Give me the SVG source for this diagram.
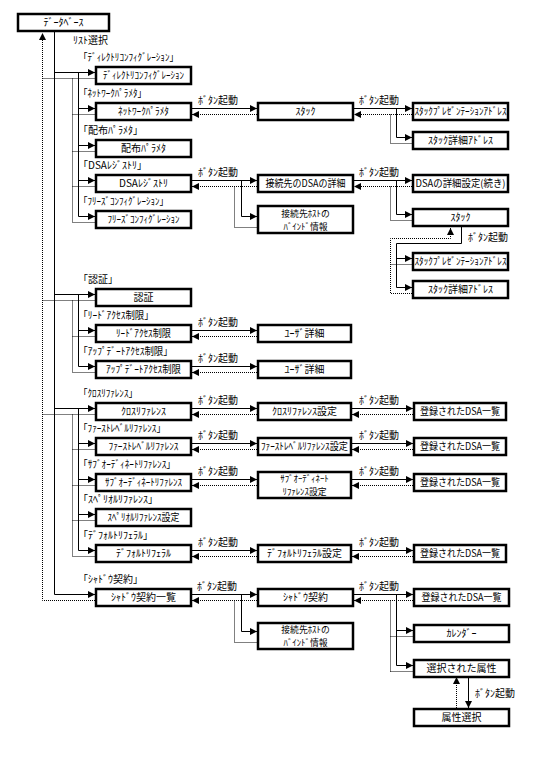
<svg xmlns="http://www.w3.org/2000/svg" width="540" height="780" viewBox="0 0 540 780">
<style>
.box{fill:#fff;stroke:#000;stroke-width:2.5}
.t{font-family:"Noto Sans CJK JP","Noto Sans CJK SC",sans-serif;font-size:10px;fill:#000}
.t2{font-size:8.8px}
.c{text-anchor:middle}
.s{fill:none;stroke:#000;stroke-width:1}
.d{fill:none;stroke:#000;stroke-width:1;stroke-dasharray:1 1}
.a{marker-end:url(#ar)}
</style>
<defs>
<marker id="ar" viewBox="0 0 7 7" refX="7" refY="3.5" markerWidth="7" markerHeight="7" markerUnits="userSpaceOnUse" orient="auto"><path d="M0,0 L7,3.5 L0,7 Z" fill="#000" stroke="none"/></marker>
</defs>
<rect width="540" height="780" fill="#fff"/>

<g id="connectors">
<path class="s a" d="M54.5,32 V594.5 H95"/>
<path class="d a" d="M95,600.5 H42.5 V33"/>
<path class="s a" d="M54.5,72.5 H95"/>
<path class="s" d="M78.5,72.5 V216.5"/>
<path class="s a" d="M78.5,108.5 H95"/>
<path class="s a" d="M78.5,145.5 H95"/>
<path class="s a" d="M78.5,180.5 H95"/>
<path class="s a" d="M78.5,216.5 H95"/>
<path class="d" d="M42.5,78.5 H95"/>
<path class="d" d="M72.5,78.5 V222.5"/>
<path class="d" d="M72.5,114.5 H95"/>
<path class="d" d="M72.5,151.5 H95"/>
<path class="d" d="M72.5,186.5 H95"/>
<path class="d" d="M72.5,222.5 H95"/>
<path class="s a" d="M54.5,294.5 H95"/>
<path class="s" d="M78.5,294.5 V366.5"/>
<path class="s a" d="M78.5,330.5 H95"/>
<path class="s a" d="M78.5,366.5 H95"/>
<path class="d" d="M42.5,300.5 H95"/>
<path class="d" d="M72.5,300.5 V372.5"/>
<path class="d" d="M72.5,336.5 H95"/>
<path class="d" d="M72.5,372.5 H95"/>
<path class="s a" d="M54.5,408.5 H95"/>
<path class="s" d="M78.5,408.5 V550.5"/>
<path class="s a" d="M78.5,443.5 H95"/>
<path class="s a" d="M78.5,479.5 H95"/>
<path class="s a" d="M78.5,514.5 H95"/>
<path class="s a" d="M78.5,550.5 H95"/>
<path class="d" d="M42.5,414.5 H95"/>
<path class="d" d="M72.5,414.5 V556.5"/>
<path class="d" d="M72.5,449.5 H95"/>
<path class="d" d="M72.5,485.5 H95"/>
<path class="d" d="M72.5,520.5 H95"/>
<path class="d" d="M72.5,556.5 H95"/>

<path class="s a" d="M192,108.5 H257"/>
<path class="d a" d="M257,114.5 H192"/>
<path class="s a" d="M192,180.5 H257"/>
<path class="s a" d="M241.5,180.5 V216.5 H257"/>
<path class="d a" d="M257,186.5 H192"/>
<path class="d" d="M234.5,186.5 V227.5 H257"/>
<path class="s a" d="M192,330.5 H257"/>
<path class="d a" d="M257,336.5 H192"/>
<path class="s a" d="M192,366.5 H257"/>
<path class="d a" d="M257,372.5 H192"/>
<path class="s a" d="M192,408.5 H257"/>
<path class="d a" d="M257,414.5 H192"/>
<path class="s a" d="M192,443.5 H257"/>
<path class="d a" d="M257,449.5 H192"/>
<path class="s a" d="M192,479.5 H257"/>
<path class="d a" d="M257,485.5 H192"/>
<path class="s a" d="M192,550.5 H257"/>
<path class="d a" d="M257,556.5 H192"/>
<path class="s a" d="M192,594.5 H257"/>
<path class="s a" d="M241.5,594.5 V631.5 H257"/>
<path class="d a" d="M257,600.5 H192"/>
<path class="d" d="M234.5,600.5 V642.5 H257"/>

<path class="s a" d="M354,108.5 H412"/>
<path class="s a" d="M396.5,108.5 V137.5 H412"/>
<path class="d a" d="M412,114.5 H354"/>
<path class="d" d="M390.5,114.5 V143.5 H412"/>
<path class="s a" d="M354,180.5 H412"/>
<path class="s a" d="M396.5,180.5 V214.5 H412"/>
<path class="d a" d="M412,186.5 H354"/>
<path class="d" d="M390.5,186.5 V220.5 H412"/>
<path class="s a" d="M352,408.5 H413"/>
<path class="d a" d="M413,414.5 H352"/>
<path class="s a" d="M352,443.5 H413"/>
<path class="d a" d="M413,449.5 H352"/>
<path class="s a" d="M352,479.5 H413"/>
<path class="d a" d="M413,485.5 H352"/>
<path class="s a" d="M352,550.5 H413"/>
<path class="d a" d="M413,556.5 H352"/>
<path class="s a" d="M354,594.5 H413"/>
<path class="s" d="M396.5,594.5 V665.5"/>
<path class="s a" d="M396.5,630.5 H413"/>
<path class="s a" d="M396.5,665.5 H413"/>
<path class="d a" d="M413,600.5 H354"/>
<path class="d" d="M390.5,600.5 V671.5"/>
<path class="d" d="M390.5,636.5 H413"/>
<path class="d" d="M390.5,671.5 H413"/>

<path class="s a" d="M461.5,227 V243.5 H396.5 V287.5 H412"/>
<path class="s a" d="M396.5,258.5 H412"/>
<path class="d a" d="M412,293.5 H390.5 V238.5 H450.5 V228"/>
<path class="d" d="M390.5,264.5 H412"/>

<path class="s a" d="M468.5,677 V708"/>
<path class="d a" d="M456.5,708 V677"/>
</g>

<g id="labels" class="t">
<text x="73" y="44">ﾘｽﾄ選択</text>
<text x="83" y="61" textLength="91" lengthAdjust="spacingAndGlyphs">｢ﾃﾞｨﾚｸﾄﾘｺﾝﾌｨｸﾞﾚｰｼｮﾝ｣</text>
<text x="83" y="97" textLength="59" lengthAdjust="spacingAndGlyphs">｢ﾈｯﾄﾜｰｸﾊﾟﾗﾒﾀ｣</text>
<text x="83" y="134">｢配布ﾊﾟﾗﾒﾀ｣</text>
<text x="83" y="169">｢DSAﾚｼﾞｽﾄﾘ｣</text>
<text x="83" y="205" textLength="81" lengthAdjust="spacingAndGlyphs">｢ﾌﾘｰｽﾞｺﾝﾌｨｸﾞﾚｰｼｮﾝ｣</text>
<text x="83" y="283">｢認証｣</text>
<text x="83" y="319" textLength="66" lengthAdjust="spacingAndGlyphs">｢ﾘｰﾄﾞｱｸｾｽ制限｣</text>
<text x="83" y="355" textLength="85" lengthAdjust="spacingAndGlyphs">｢ｱｯﾌﾟﾃﾞｰﾄｱｸｾｽ制限｣</text>
<text x="83" y="397" textLength="50" lengthAdjust="spacingAndGlyphs">｢ｸﾛｽﾘﾌｧﾚﾝｽ｣</text>
<text x="83" y="432" textLength="78" lengthAdjust="spacingAndGlyphs">｢ﾌｧｰｽﾄﾚﾍﾞﾙﾘﾌｧﾚﾝｽ｣</text>
<text x="83" y="468" textLength="88" lengthAdjust="spacingAndGlyphs">｢ｻﾌﾞｵｰﾃﾞｨﾈｰﾄﾘﾌｧﾚﾝｽ｣</text>
<text x="83" y="503">｢ｽﾍﾟﾘｵﾙﾘﾌｧﾚﾝｽ｣</text>
<text x="83" y="539">｢ﾃﾞﾌｫﾙﾄﾘﾌｪﾗﾙ｣</text>
<text x="83" y="583">｢ｼｬﾄﾞｳ契約｣</text>
<text x="198" y="104">ﾎﾞﾀﾝ起動</text>
<text x="359" y="104">ﾎﾞﾀﾝ起動</text>
<text x="198" y="176">ﾎﾞﾀﾝ起動</text>
<text x="359" y="176">ﾎﾞﾀﾝ起動</text>
<text x="468" y="241">ﾎﾞﾀﾝ起動</text>
<text x="198" y="326">ﾎﾞﾀﾝ起動</text>
<text x="198" y="362">ﾎﾞﾀﾝ起動</text>
<text x="198" y="404">ﾎﾞﾀﾝ起動</text>
<text x="359" y="404">ﾎﾞﾀﾝ起動</text>
<text x="198" y="439">ﾎﾞﾀﾝ起動</text>
<text x="359" y="439">ﾎﾞﾀﾝ起動</text>
<text x="198" y="475">ﾎﾞﾀﾝ起動</text>
<text x="359" y="475">ﾎﾞﾀﾝ起動</text>
<text x="198" y="546">ﾎﾞﾀﾝ起動</text>
<text x="359" y="546">ﾎﾞﾀﾝ起動</text>
<text x="197" y="590">ﾎﾞﾀﾝ起動</text>
<text x="359" y="590">ﾎﾞﾀﾝ起動</text>
<text x="475" y="697">ﾎﾞﾀﾝ起動</text>
</g>

<g id="n-db"><rect class="box" x="18" y="14" width="91" height="17"/><text class="t c" x="63.5" y="26">ﾃﾞｰﾀﾍﾞｰｽ</text></g>

<g id="n-dirconf"><rect class="box" x="96" y="67" width="95" height="17"/><text class="t c" x="143.5" y="79" textLength="81" lengthAdjust="spacingAndGlyphs">ﾃﾞｨﾚｸﾄﾘｺﾝﾌｨｸﾞﾚｰｼｮﾝ</text></g>
<g id="n-netparam"><rect class="box" x="96" y="103" width="95" height="17"/><text class="t c" x="143.5" y="115" textLength="51" lengthAdjust="spacingAndGlyphs">ﾈｯﾄﾜｰｸﾊﾟﾗﾒﾀ</text></g>
<g id="n-distparam"><rect class="box" x="96" y="140" width="95" height="17"/><text class="t c" x="143.5" y="152">配布ﾊﾟﾗﾒﾀ</text></g>
<g id="n-dsareg"><rect class="box" x="96" y="175" width="95" height="17"/><text class="t c" x="143.5" y="187">DSAﾚｼﾞｽﾄﾘ</text></g>
<g id="n-freeze"><rect class="box" x="96" y="211" width="95" height="17"/><text class="t c" x="143.5" y="223" textLength="72" lengthAdjust="spacingAndGlyphs">ﾌﾘｰｽﾞｺﾝﾌｨｸﾞﾚｰｼｮﾝ</text></g>
<g id="n-auth"><rect class="box" x="96" y="289" width="95" height="17"/><text class="t c" x="143.5" y="301">認証</text></g>
<g id="n-readacl"><rect class="box" x="96" y="325" width="95" height="17"/><text class="t c" x="143.5" y="337" textLength="55" lengthAdjust="spacingAndGlyphs">ﾘｰﾄﾞｱｸｾｽ制限</text></g>
<g id="n-updacl"><rect class="box" x="96" y="361" width="95" height="17"/><text class="t c" x="143.5" y="373" textLength="75" lengthAdjust="spacingAndGlyphs">ｱｯﾌﾟﾃﾞｰﾄｱｸｾｽ制限</text></g>
<g id="n-xref"><rect class="box" x="96" y="403" width="95" height="17"/><text class="t c" x="143.5" y="415">ｸﾛｽﾘﾌｧﾚﾝｽ</text></g>
<g id="n-firstref"><rect class="box" x="96" y="438" width="95" height="17"/><text class="t c" x="143.5" y="450" textLength="70" lengthAdjust="spacingAndGlyphs">ﾌｧｰｽﾄﾚﾍﾞﾙﾘﾌｧﾚﾝｽ</text></g>
<g id="n-subref"><rect class="box" x="96" y="474" width="95" height="17"/><text class="t c" x="143.5" y="486" textLength="77" lengthAdjust="spacingAndGlyphs">ｻﾌﾞｵｰﾃﾞｨﾈｰﾄﾘﾌｧﾚﾝｽ</text></g>
<g id="n-supref"><rect class="box" x="96" y="509" width="95" height="17"/><text class="t c" x="143.5" y="521" textLength="72" lengthAdjust="spacingAndGlyphs">ｽﾍﾟﾘｵﾙﾘﾌｧﾚﾝｽ設定</text></g>
<g id="n-defref"><rect class="box" x="96" y="545" width="95" height="17"/><text class="t c" x="143.5" y="557">ﾃﾞﾌｫﾙﾄﾘﾌｪﾗﾙ</text></g>
<g id="n-shadowlist"><rect class="box" x="96" y="589" width="95" height="17"/><text class="t c" x="143.5" y="601">ｼｬﾄﾞｳ契約一覧</text></g>

<g id="n-stack1"><rect class="box" x="258" y="103" width="95" height="17"/><text class="t c" x="305.5" y="115">ｽﾀｯｸ</text></g>
<g id="n-dsadetail"><rect class="box" x="258" y="175" width="95" height="17"/><text class="t c" x="305.5" y="187" textLength="80" lengthAdjust="spacingAndGlyphs">接続先のDSAの詳細</text></g>
<g id="n-bind1"><rect class="box" x="258" y="206" width="95" height="27"/><text class="t t2 c" x="305.5" y="216.5">接続先ﾎｽﾄの</text><text class="t t2 c" x="305.5" y="229.5">ﾊﾞｲﾝﾄﾞ情報</text></g>
<g id="n-user1"><rect class="box" x="258" y="325" width="93" height="17"/><text class="t c" x="304.5" y="337">ﾕｰｻﾞ詳細</text></g>
<g id="n-user2"><rect class="box" x="258" y="361" width="93" height="17"/><text class="t c" x="304.5" y="373">ﾕｰｻﾞ詳細</text></g>
<g id="n-xrefset"><rect class="box" x="258" y="403" width="93" height="17"/><text class="t c" x="304.5" y="415">ｸﾛｽﾘﾌｧﾚﾝｽ設定</text></g>
<g id="n-firstrefset"><rect class="box" x="258" y="438" width="93" height="17"/><text class="t c" x="304.5" y="450" textLength="87" lengthAdjust="spacingAndGlyphs">ﾌｧｰｽﾄﾚﾍﾞﾙﾘﾌｧﾚﾝｽ設定</text></g>
<g id="n-subrefset"><rect class="box" x="258" y="472" width="93" height="26"/><text class="t t2 c" x="304.5" y="482">ｻﾌﾞｵｰﾃﾞｨﾈｰﾄ</text><text class="t t2 c" x="304.5" y="495">ﾘﾌｧﾚﾝｽ設定</text></g>
<g id="n-defrefset"><rect class="box" x="258" y="545" width="93" height="17"/><text class="t c" x="304.5" y="557">ﾃﾞﾌｫﾙﾄﾘﾌｪﾗﾙ設定</text></g>
<g id="n-shadow"><rect class="box" x="258" y="589" width="95" height="17"/><text class="t c" x="305.5" y="601">ｼｬﾄﾞｳ契約</text></g>
<g id="n-bind2"><rect class="box" x="258" y="623" width="95" height="26"/><text class="t t2 c" x="305.5" y="633">接続先ﾎｽﾄの</text><text class="t t2 c" x="305.5" y="646">ﾊﾞｲﾝﾄﾞ情報</text></g>

<g id="n-stackpres1"><rect class="box" x="413" y="103" width="95" height="17"/><text class="t c" x="460.5" y="115" textLength="92" lengthAdjust="spacingAndGlyphs">ｽﾀｯｸﾌﾟﾚｾﾞﾝﾃｰｼｮﾝｱﾄﾞﾚｽ</text></g>
<g id="n-stackdet1"><rect class="box" x="413" y="132" width="95" height="17"/><text class="t c" x="460.5" y="144">ｽﾀｯｸ詳細ｱﾄﾞﾚｽ</text></g>
<g id="n-dsadetail2"><rect class="box" x="413" y="175" width="95" height="17"/><text class="t c" x="460.5" y="187" textLength="90" lengthAdjust="spacingAndGlyphs">DSAの詳細設定(続き)</text></g>
<g id="n-stack2"><rect class="box" x="413" y="209" width="95" height="17"/><text class="t c" x="460.5" y="221">ｽﾀｯｸ</text></g>
<g id="n-stackpres2"><rect class="box" x="413" y="253" width="95" height="17"/><text class="t c" x="460.5" y="265" textLength="92" lengthAdjust="spacingAndGlyphs">ｽﾀｯｸﾌﾟﾚｾﾞﾝﾃｰｼｮﾝｱﾄﾞﾚｽ</text></g>
<g id="n-stackdet2"><rect class="box" x="413" y="281" width="95" height="17"/><text class="t c" x="460.5" y="293">ｽﾀｯｸ詳細ｱﾄﾞﾚｽ</text></g>
<g id="n-dsalist1"><rect class="box" x="414" y="403" width="92" height="17"/><text class="t c" x="460" y="415" textLength="80" lengthAdjust="spacingAndGlyphs">登録されたDSA一覧</text></g>
<g id="n-dsalist2"><rect class="box" x="414" y="438" width="92" height="17"/><text class="t c" x="460" y="450" textLength="80" lengthAdjust="spacingAndGlyphs">登録されたDSA一覧</text></g>
<g id="n-dsalist3"><rect class="box" x="414" y="474" width="92" height="17"/><text class="t c" x="460" y="486" textLength="80" lengthAdjust="spacingAndGlyphs">登録されたDSA一覧</text></g>
<g id="n-dsalist4"><rect class="box" x="414" y="545" width="92" height="17"/><text class="t c" x="460" y="557" textLength="80" lengthAdjust="spacingAndGlyphs">登録されたDSA一覧</text></g>
<g id="n-dsalist5"><rect class="box" x="414" y="589" width="95" height="17"/><text class="t c" x="461.5" y="601" textLength="80" lengthAdjust="spacingAndGlyphs">登録されたDSA一覧</text></g>
<g id="n-calendar"><rect class="box" x="414" y="625" width="95" height="17"/><text class="t c" x="461.5" y="637">ｶﾚﾝﾀﾞｰ</text></g>
<g id="n-selattr"><rect class="box" x="414" y="660" width="95" height="17"/><text class="t c" x="461.5" y="672">選択された属性</text></g>
<g id="n-attrsel"><rect class="box" x="414" y="709" width="95" height="17"/><text class="t c" x="461.5" y="721">属性選択</text></g>
</svg>
